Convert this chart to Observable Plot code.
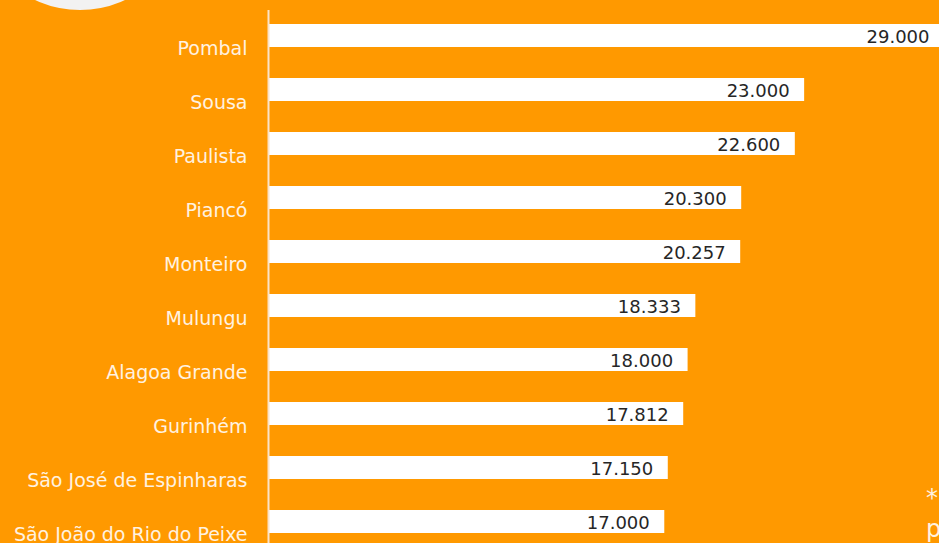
<!DOCTYPE html>
<html>
<head>
<meta charset="utf-8">
<script src="https://cdn.jsdelivr.net/npm/d3@7"></script>
<script src="https://cdn.jsdelivr.net/npm/@observablehq/plot@0.6"></script>
<style>
  html, body { margin: 0; padding: 0; background: #FF9900; overflow: hidden; width: 939px; height: 543px; }
  #wrap { position: relative; width: 939px; height: 543px; overflow: hidden; }
  #circle { position: absolute; left: -26px; top: -202px; width: 212px; height: 212px; border-radius: 50%; background: #F2F2F2; }
  .note { position: absolute; font-family: "DejaVu Sans", sans-serif; color: #FFF2E0; font-size: 24px; left: 926px; }
  #chart { position: absolute; left: 0; top: 0; width: 960px; }
  #chart svg { max-width: none !important; }
</style>
</head>
<body>
<div id="wrap">
  <div id="circle"></div>
  <div id="chart"></div>
  <div class="note" style="top:484px;">*</div>
  <div class="note" style="top:515px;">p</div>
</div>
<script>
const municipios = ["Pombal", "Sousa", "Paulista", "Piancó", "Monteiro", "Mulungu", "Alagoa Grande", "Gurinhém", "São José de Espinharas", "São João do Rio do Peixe"];
const valores = [29000, 23000, 22600, 20300, 20257, 18333, 18000, 17812, 17150, 17000];

const data = municipios.map((m, i) => ({municipio: m, valor: valores[i]}));
const fmt = d3.formatLocale({decimal: ",", thousands: ".", grouping: [3], currency: ["R$", ""]}).format(",d");

const chart = Plot.plot({
  width: 960,
  height: 543,
  marginTop: 10,
  marginBottom: 0,
  marginLeft: 268,
  marginRight: 0,
  style: {background: "transparent", fontFamily: "DejaVu Sans, sans-serif", overflow: "hidden", maxWidth: "none"},
  x: {domain: [0, 29000], range: [268, 944], axis: null},
  y: {domain: municipios, range: [8.5, 548.5], paddingInner: 0.574, paddingOuter: 0.287, axis: null},
  marks: [
    Plot.barX(data, {x: "valor", y: "municipio", fill: "white"}),
    Plot.ruleX([0], {stroke: "#FBE3C8", strokeWidth: 2}),
    Plot.text(data, {x: 0, y: "municipio", text: "municipio", textAnchor: "end", dx: -21, dy: 13, fill: "#FFF2E0", fontSize: 19}),
    Plot.text(data, {x: "valor", y: "municipio", text: d => fmt(d.valor), textAnchor: "end", dx: -15, dy: 1.5, fill: "#262626", fontSize: 18})
  ]
});
document.getElementById("chart").appendChild(chart);
</script>
</body>
</html>
